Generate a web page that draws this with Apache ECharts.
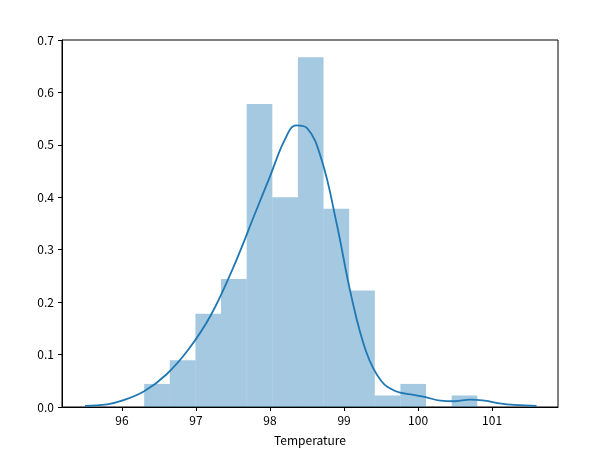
<!DOCTYPE html>
<html>
<head>
<meta charset="utf-8">
<script src="https://cdn.jsdelivr.net/npm/echarts@6/dist/echarts.min.js"></script>
<style>body{margin:0;background:#fff}#main{width:609px;height:464px}</style>
</head>
<body>
<div id="main"></div>
<script>
// histogram bins (13 bins from 96.3 to 100.8)
var binStart = 96.3, binWidth = 4.5 / 13;
var density = [0.044, 0.089, 0.178, 0.244, 0.578, 0.400, 0.667, 0.378, 0.222, 0.022, 0.044, 0, 0.022];
// kde curve
var kdeX = [95.5, 95.8, 96.0, 96.3, 96.6, 96.9, 97.2, 97.5, 97.8, 98.0, 98.2, 98.35, 98.5, 98.7, 98.9, 99.1, 99.3, 99.5, 99.7, 99.9, 100.1, 100.3, 100.5, 100.7, 100.9, 101.1, 101.3, 101.6];
var kdeY = [0.002, 0.005, 0.012, 0.03, 0.062, 0.11, 0.175, 0.265, 0.37, 0.44, 0.51, 0.537, 0.532, 0.47, 0.35, 0.21, 0.105, 0.05, 0.03, 0.024, 0.019, 0.012, 0.011, 0.014, 0.012, 0.007, 0.004, 0.002];
var xTicks = [96, 97, 98, 99, 100, 101];

var bars = density.map(function (d, i) { return [binStart + i * binWidth, binStart + (i + 1) * binWidth, d]; });
var kde = kdeX.map(function (x, i) { return [x, kdeY[i]]; });

var font = '"Noto Sans CJK SC", sans-serif';
var chart = echarts.init(document.getElementById('main'));
chart.setOption({
    animation: false,
    grid: {left: 62, right: 51, top: 40, bottom: 57, show: true, borderColor: '#000', borderWidth: 1},
    xAxis: {
        type: 'value', min: 95.19, max: 101.89,
        name: 'Temperature', nameLocation: 'middle', nameGap: 27,
        nameTextStyle: {color: '#000', fontSize: 12, fontFamily: font},
        splitLine: {show: false},
        axisLine: {lineStyle: {color: '#000'}},
        axisTick: {customValues: xTicks, length: 4, inside: false, lineStyle: {color: '#000'}},
        axisLabel: {customValues: xTicks, color: '#000', fontSize: 12, fontFamily: font, margin: 7}
    },
    yAxis: {
        type: 'value', min: 0, max: 0.7, interval: 0.1,
        splitLine: {show: false},
        axisLine: {show: true, lineStyle: {color: '#000'}},
        axisTick: {show: true, length: 4, lineStyle: {color: '#000'}},
        axisLabel: {color: '#000', fontSize: 12, fontFamily: font, margin: 8,
            formatter: function (v) { return v.toFixed(1); }}
    },
    series: [{
        type: 'custom',
        data: bars,
        renderItem: function (params, api) {
            var p0 = api.coord([api.value(0), api.value(2)]);
            var p1 = api.coord([api.value(1), 0]);
            return {type: 'rect', shape: {x: p0[0], y: p0[1], width: p1[0] - p0[0], height: p1[1] - p0[1]},
                style: {fill: 'rgba(31,119,180,0.4)'}};
        }
    }, {
        type: 'line', data: kde, smooth: 0.4, showSymbol: false,
        lineStyle: {color: '#1f77b4', width: 1.8}
    }]
});
</script>
</body>
</html>
